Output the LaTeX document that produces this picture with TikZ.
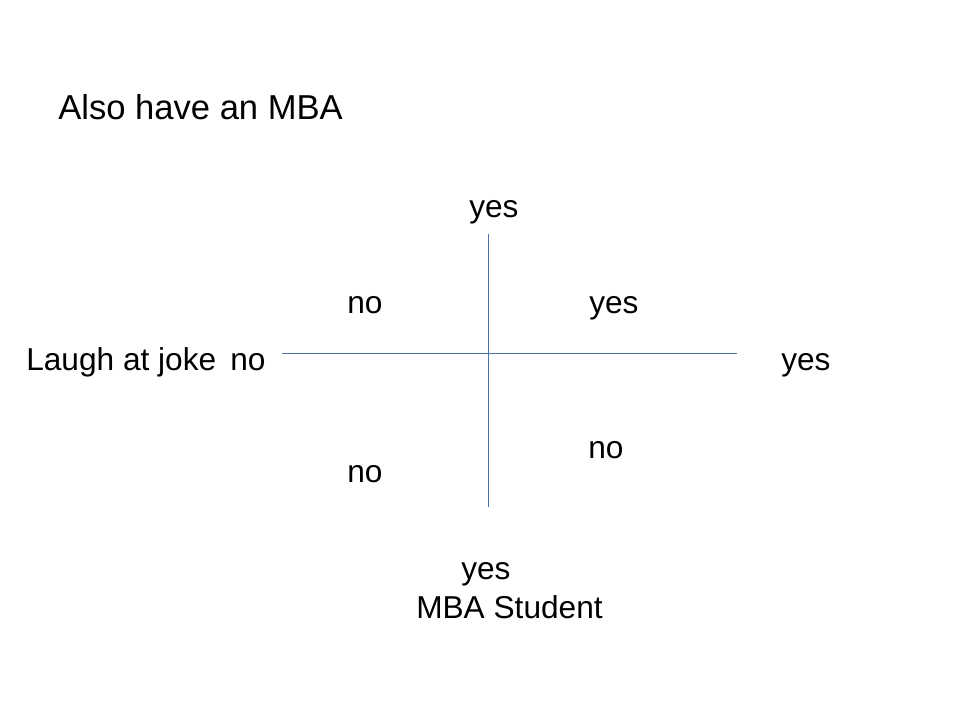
\documentclass[tikz,border=0pt]{standalone}
\usepackage{fontspec}
\setmainfont{Liberation Sans}
\usepackage{xcolor}
\definecolor{AxisBlue}{HTML}{4A72A4}
\usepackage{tikz}
\tikzstyle{heading} = [inner sep=0pt, anchor=base west, font=\fontsize{24.6}{29}\selectfont]
\tikzstyle{answer} = [inner sep=0pt, anchor=base west, font=\fontsize{22.5}{27}\selectfont]
\tikzstyle{axis} = [color=AxisBlue, line width=0.7pt]

\begin{document}
\begin{tikzpicture}[x=0.025cm, y=-0.025cm]
        \useasboundingbox (0,0) rectangle (960,720);

        % Title
        \node [heading] (title) at (58,120) {Also have an MBA};

        % Axes
        \coordinate (xleft) at (282,353);
        \coordinate (xright) at (737,353);
        \coordinate (ytop) at (488,234);
        \coordinate (ybot) at (488,507);
        \draw [axis] (xleft) -- (xright);
        \draw [axis] (ytop) -- (ybot);

        % Axis labels
        \node [answer] (laugh) at (26,371) {Laugh at joke};
        \node [answer] (leftno) at (230,371) {no};
        \node [answer] (rightyes) at (781,371) {yes};
        \node [answer] (topyes) at (469,218) {yes};
        \node [answer] (botyes) at (461,579) {yes};
        \node [answer] (mbastudent) at (416,618) {MBA Student};

        % Quadrants
        \node [answer] (ulno) at (347,314) {no};
        \node [answer] (uryes) at (589,314) {yes};
        \node [answer] (lrno) at (588,459) {no};
        \node [answer] (llno) at (347,483) {no};
    \end{tikzpicture}
\end{document}
